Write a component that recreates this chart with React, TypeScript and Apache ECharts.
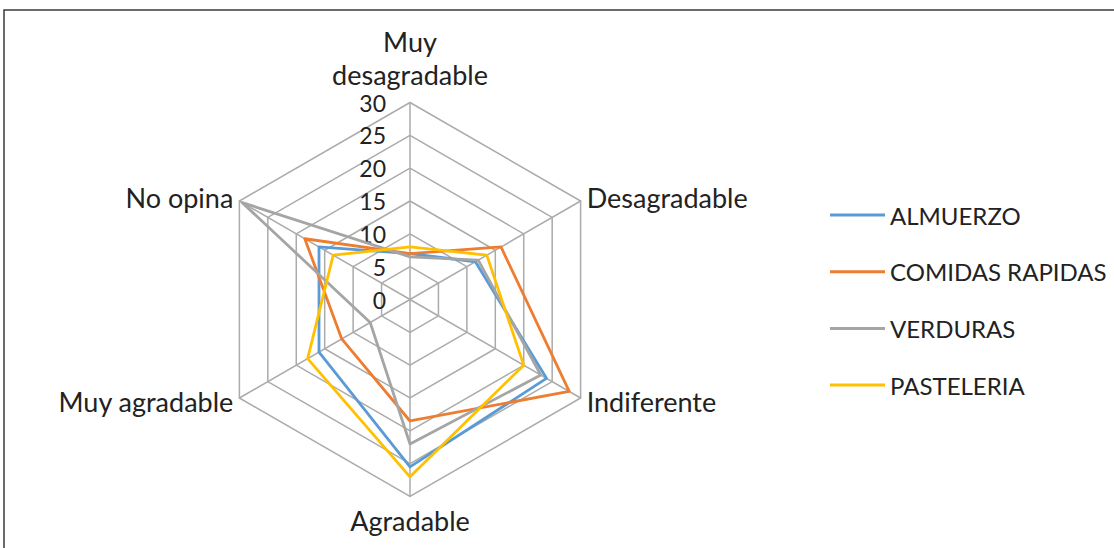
import React, { useEffect, useRef } from "react";
import * as echarts from "echarts";

// Categories in natural (clockwise from top) order
const categories = ["Muy\ndesagradable", "Desagradable", "Indiferente", "Agradable", "Muy agradable", "No opina"];
const seriesNames = ["ALMUERZO", "COMIDAS RAPIDAS", "VERDURAS", "PASTELERIA"];
const almuerzo = [7, 11.5, 24, 25.5, 16, 16];
const comidasRapidas = [7, 16, 28, 18.5, 12, 18.5];
const verduras = [6.5, 12, 23, 22, 7, 29.5];
const pasteleria = [8, 13.5, 20, 27, 18, 13.5];
const colors = ["#5B9BD5", "#ED7D31", "#A5A5A5", "#FFC000"];
const axisMax = 30;
const FONT = "Lato";

// ECharts places indicators counter-clockwise; reorder to make them clockwise
const order = [0, 5, 4, 3, 2, 1];
const reorder = (arr: any[]) => order.map((i) => arr[i]);

export default function App() {
  const ref = useRef<HTMLDivElement>(null);
  useEffect(() => {
    if (!ref.current) return;
    const chart = echarts.init(ref.current, undefined, { renderer: "svg" });
    const allData = [almuerzo, comidasRapidas, verduras, pasteleria];
    chart.setOption({
      animation: false,
      backgroundColor: "#ffffff",
      graphic: [
        {
          type: "rect",
          shape: { x: 4, y: 10, width: 1200, height: 700 },
          style: { fill: "none", stroke: "#3a3a3a", lineWidth: 1.5 },
          silent: true,
        },
      ],
      legend: {
        orient: "vertical",
        left: 825,
        top: 198,
        icon: "rect",
        itemWidth: 55,
        itemHeight: 3,
        itemGap: 32.7,
        data: seriesNames,
        textStyle: { fontFamily: FONT, fontSize: 24, lineHeight: 24, color: "#222" },
      },
      radar: {
        center: [410, 299.5],
        radius: 197,
        startAngle: 90,
        shape: "polygon",
        splitNumber: 6,
        nameGap: 7,
        axisName: { color: "#222", fontFamily: FONT, fontSize: 27, lineHeight: 33 },
        indicator: reorder(categories).map((name, i) => ({
          name,
          min: 0,
          max: axisMax,
          axisLabel: i === 0 ? { show: true } : { show: false },
        })),
        axisLabel: {
          show: false,
          color: "#222",
          fontFamily: FONT,
          fontSize: 23,
          margin: 24,
        },
        axisLine: { lineStyle: { color: "#ABABAB", width: 1.5 } },
        splitLine: { lineStyle: { color: "#ABABAB", width: 1.5 } },
        splitArea: { show: false },
        axisTick: { show: false },
      },
      series: [
        {
          type: "radar",
          symbol: "none",
          data: seriesNames.map((n, i) => ({
            name: n,
            value: reorder(allData[i]),
            lineStyle: { color: colors[i], width: 2.8 },
            itemStyle: { color: colors[i] },
          })),
        },
      ],
    });
    return () => chart.dispose();
  }, []);
  return (
    <div
      ref={ref}
      style={{ position: "absolute", left: 0, top: 0, width: 1114, height: 548 }}
    />
  );
}
